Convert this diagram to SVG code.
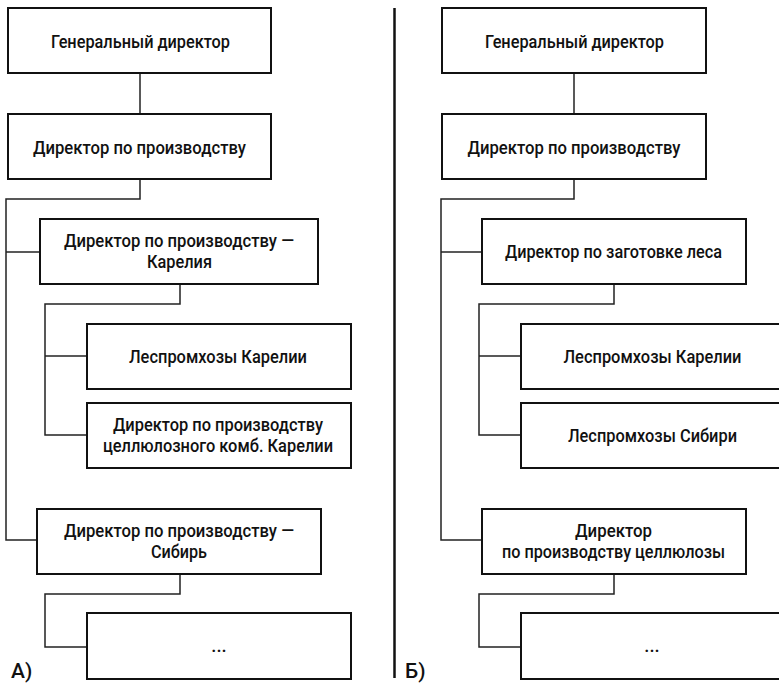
<svg xmlns="http://www.w3.org/2000/svg" width="779" height="684" viewBox="0 0 779 684">
  <style>
    .box { fill: #ffffff; stroke: #111111; stroke-width: 2; }
    .wire { fill: none; stroke: #222222; stroke-width: 1.5; }
    .lbl { font-family: Roboto, "Noto Sans", sans-serif; font-size: 18.5px; font-weight: 500; fill: #111111; text-anchor: middle; }
    .tag { font-family: Roboto, "Noto Sans", sans-serif; font-size: 21px; font-weight: 500; fill: #111111; }
  </style>
  <rect x="0" y="0" width="779" height="684" fill="#ffffff"/>

  <!-- connectors -->
  <g id="connectors">
    <!-- variant A -->
    <path class="wire" d="M140 73 V114"/>
    <path class="wire" d="M140 179 V199 H6 V540 H37"/>
    <path class="wire" d="M6 252 H40"/>
    <path class="wire" d="M180 284 V304 H45 V435 H87"/>
    <path class="wire" d="M45 356 H87"/>
    <path class="wire" d="M180 574 V594 H45 V647 H87"/>
    <!-- variant B -->
    <path class="wire" d="M574 73 V114"/>
    <path class="wire" d="M574 179 V199 H441 V540 H482"/>
    <path class="wire" d="M441 252 H482"/>
    <path class="wire" d="M614 284 V304 H479 V435 H521"/>
    <path class="wire" d="M479 356 H521"/>
    <path class="wire" d="M614 574 V594 H479 V647 H521"/>
  </g>

  <!-- divider between the two variants -->
  <line x1="394.5" y1="8" x2="394.5" y2="678" stroke="#111111" stroke-width="2.5"/>

  <!-- variant A nodes -->
  <g id="a-ceo">
    <rect class="box" x="8" y="8" width="263" height="65"/>
    <text class="lbl" x="140.5" y="48" textLength="179" lengthAdjust="spacingAndGlyphs">Генеральный директор</text>
  </g>
  <g id="a-prod">
    <rect class="box" x="8" y="114" width="263" height="65"/>
    <text class="lbl" x="139.5" y="154" textLength="213" lengthAdjust="spacingAndGlyphs">Директор по производству</text>
  </g>
  <g id="a-prod-karelia">
    <rect class="box" x="40" y="219" width="278" height="65"/>
    <text class="lbl" x="179" y="247" textLength="230" lengthAdjust="spacingAndGlyphs">Директор по производству —</text>
    <text class="lbl" x="179.5" y="268" textLength="65" lengthAdjust="spacingAndGlyphs">Карелия</text>
  </g>
  <g id="a-lph-karelia">
    <rect class="box" x="87" y="324" width="264" height="65"/>
    <text class="lbl" x="218" y="363" textLength="178" lengthAdjust="spacingAndGlyphs">Леспромхозы Карелии</text>
  </g>
  <g id="a-pulp-karelia">
    <rect class="box" x="87" y="403" width="264" height="65"/>
    <text class="lbl" x="218" y="431" textLength="210" lengthAdjust="spacingAndGlyphs">Директор по производству</text>
    <text class="lbl" x="218" y="452" textLength="230" lengthAdjust="spacingAndGlyphs">целлюлозного комб. Карелии</text>
  </g>
  <g id="a-prod-siberia">
    <rect class="box" x="37" y="509" width="284" height="65"/>
    <text class="lbl" x="179" y="537" textLength="230" lengthAdjust="spacingAndGlyphs">Директор по производству —</text>
    <text class="lbl" x="179" y="558" textLength="56" lengthAdjust="spacingAndGlyphs">Сибирь</text>
  </g>
  <g id="a-more">
    <rect class="box" x="87" y="613" width="264" height="66"/>
    <text class="lbl" x="219" y="652">...</text>
  </g>
  <text class="tag" x="11" y="678">А)</text>

  <!-- variant B nodes -->
  <g id="b-ceo">
    <rect class="box" x="442" y="8" width="264" height="65"/>
    <text class="lbl" x="574.5" y="48" textLength="179" lengthAdjust="spacingAndGlyphs">Генеральный директор</text>
  </g>
  <g id="b-prod">
    <rect class="box" x="442" y="114" width="264" height="65"/>
    <text class="lbl" x="574" y="154" textLength="213" lengthAdjust="spacingAndGlyphs">Директор по производству</text>
  </g>
  <g id="b-logging">
    <rect class="box" x="482" y="219" width="264" height="65"/>
    <text class="lbl" x="613.5" y="258" textLength="217" lengthAdjust="spacingAndGlyphs">Директор по заготовке леса</text>
  </g>
  <g id="b-lph-karelia">
    <rect class="box" x="521" y="324" width="270" height="65"/>
    <text class="lbl" x="652.5" y="363" textLength="178" lengthAdjust="spacingAndGlyphs">Леспромхозы Карелии</text>
  </g>
  <g id="b-lph-siberia">
    <rect class="box" x="521" y="403" width="270" height="65"/>
    <text class="lbl" x="652.5" y="442" textLength="169" lengthAdjust="spacingAndGlyphs">Леспромхозы Сибири</text>
  </g>
  <g id="b-pulp">
    <rect class="box" x="482" y="509" width="264" height="65"/>
    <text class="lbl" x="613.5" y="537" textLength="77" lengthAdjust="spacingAndGlyphs">Директор</text>
    <text class="lbl" x="613.5" y="558" textLength="223" lengthAdjust="spacingAndGlyphs">по производству целлюлозы</text>
  </g>
  <g id="b-more">
    <rect class="box" x="521" y="613" width="270" height="66"/>
    <text class="lbl" x="652" y="652">...</text>
  </g>
  <text class="tag" x="405" y="678">Б)</text>
</svg>
